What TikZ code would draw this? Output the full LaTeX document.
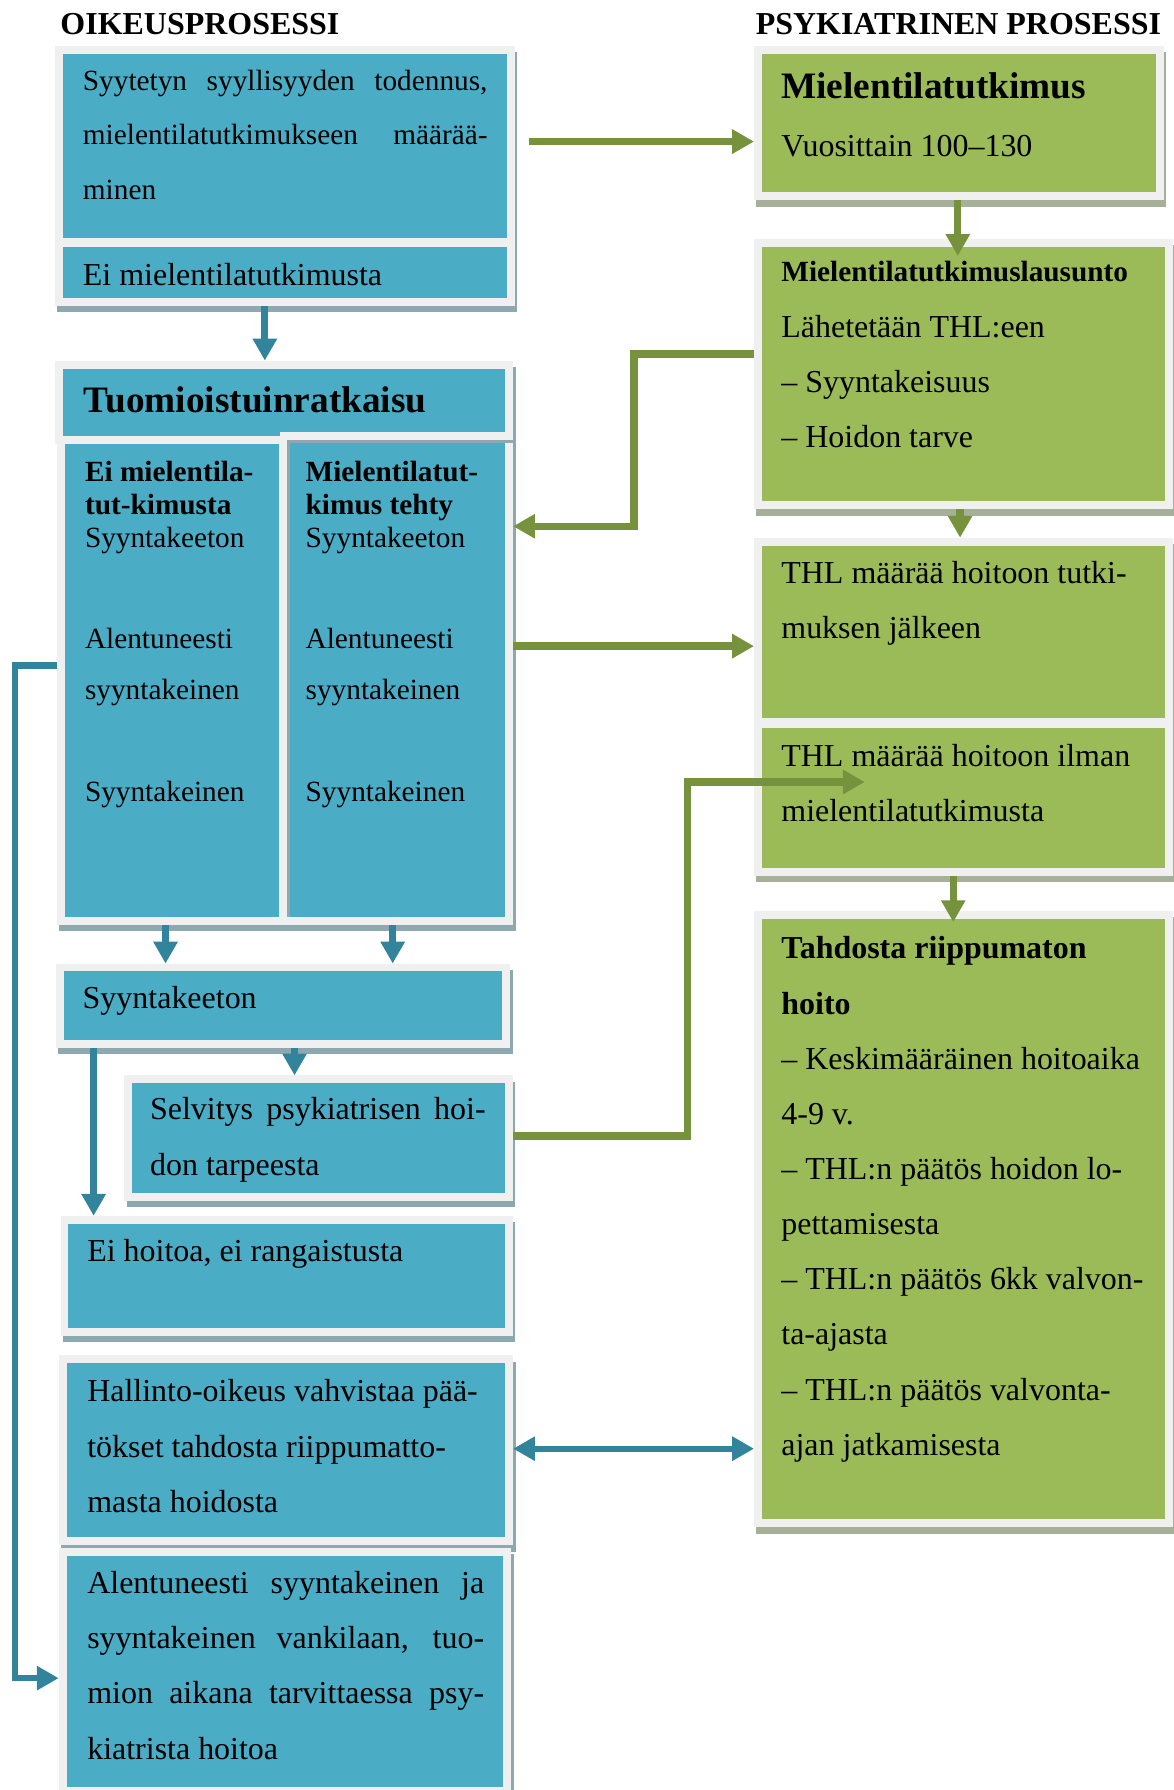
\documentclass[tikz,border=0pt]{standalone}
\usepackage{fontspec}
\setmainfont{Liberation Serif}
\usetikzlibrary{arrows.meta,fit,calc,shadows}

\definecolor{boxblue}{HTML}{4BACC6}
\definecolor{lineblue}{HTML}{31849B}
\definecolor{boxgreen}{HTML}{9BBB59}
\definecolor{linegreen}{HTML}{76923C}
\definecolor{framegray}{HTML}{F0F0F0}
\definecolor{shadeblue}{HTML}{8EA8B0}
\definecolor{shadegreen}{HTML}{A6AF98}

\begin{document}
\begin{tikzpicture}[>={Triangle[width=8.7pt,length=8.2pt]},
  x=0.4286pt,y=-0.4286pt,
  bluebox/.style={fill=boxblue,draw=framegray,line width=3pt,inner sep=1.5pt,
    general shadow={fill=shadeblue,draw=shadeblue,shadow xshift=0.9pt,shadow yshift=-2.4pt}},
  greenbox/.style={fill=boxgreen,draw=framegray,line width=3pt,inner sep=1.5pt,
    general shadow={fill=shadegreen,draw=shadegreen,shadow xshift=0.9pt,shadow yshift=-2.4pt}},
  txt/.style={anchor=base west,inner sep=0pt,align=left,font=\fontsize{12}{20.7}\selectfont},
  coltxt/.style={txt,font=\fontsize{11}{12.43}\selectfont},
  head/.style={anchor=base west,inner sep=0pt,font=\fontsize{12}{14}\selectfont\bfseries},
  blueline/.style={draw=lineblue,line width=2.6pt,->},
  greenline/.style={draw=linegreen,line width=2.75pt,->}]
\useasboundingbox (0,0) rectangle (1028,1568);

% otsikot
\node[head] (oikeus) at (52.5,30) {OIKEUSPROSESSI};
\node[head] (psyk) at (661.6,30) {PSYKIATRINEN PROSESSI};

% oikeusprosessi
\node[bluebox,fit={(55,47.3) (444,208.3)}] (syyte) {};
\node[bluebox,fit={(55,216) (444,261)}] (eimt) {};
\node[bluebox,fit={(55,322.8) (442.5,382)}] (tuomio) {};
\node[bluebox,fit={(57,389) (244.8,803)}] (lcol) {};
\node[bluebox,fit={(252.7,385.6) (442.5,803)}] (rcol) {};
\draw[shadeblue,line width=1.2pt] (252.7,803) -- (252.7,386.5) -- (450,386.5);
\node[bluebox,fit={(56,851) (440,911)}] (syyn) {};
\node[bluebox,fit={(116,949) (442,1045)}] (selv) {};
\node[bluebox,fit={(60,1072) (442,1163)}] (eihoi) {};
\node[bluebox,fit={(58.4,1194.2) (442.5,1346.7)}] (hall) {};
\node[bluebox,fit={(58.4,1362.7) (441,1565.7)}] (alent) {};

% psykiatrinen prosessi
\node[greenbox,fit={(667.5,47.3) (1012.2,168.5)}] (mielen) {};
\node[greenbox,fit={(667.5,216) (1020.9,439)}] (lausu) {};
\node[greenbox,fit={(667.5,478) (1020.9,629)}] (thla) {};
\node[greenbox,fit={(667.5,638) (1020.9,760)}] (thlb) {};
\node[greenbox,fit={(667.5,804.7) (1020.9,1331)}] (tahd) {};

% tekstit (base = viimeisen rivin perusviiva)
\node[txt,font=\fontsize{11}{20.4}\selectfont] (syytetxt) at (72.2,174.4)
  {\makebox[151.9pt][s]{Syytetyn syyllisyyden todennus,}\\
   \makebox[151.9pt][s]{mielentilatutkimukseen määrää-}\\minen};
\node[txt] (eimttxt) at (72.2,250) {Ei mielentilatutkimusta};
\node[txt,font=\fontsize{14}{16}\selectfont\bfseries] (tuomiotxt) at (73,361) {Tuomioistuinratkaisu};
\node[coltxt] (lcoltxt) at (74,702)
  {\textbf{Ei mielentila-}\\\textbf{tut-kimusta}\\Syyntakeeton\\[25.3pt]Alentuneesti\\[6.9pt]syyntakeinen\\[25.7pt]Syyntakeinen};
\node[coltxt] (rcoltxt) at (267.3,702)
  {\textbf{Mielentilatut-}\\\textbf{kimus tehty}\\Syyntakeeton\\[25.3pt]Alentuneesti\\[6.9pt]syyntakeinen\\[25.7pt]Syyntakeinen};
\node[txt] (syyntxt) at (72,883) {Syyntakeeton};
\node[txt] (selvtxt) at (131,1029.3)
  {\makebox[126pt][s]{Selvitys psykiatrisen hoi-}\\don tarpeesta};
\node[txt] (eihoitxt) at (76,1105) {Ei hoitoa, ei rangaistusta};
\node[txt] (halltxt) at (76,1324.6)
  {Hallinto-oikeus vahvistaa pää-\\tökset tahdosta riippumatto-\\masta hoidosta};
\node[txt] (alenttxt) at (76,1540.9)
  {\makebox[149pt][s]{Alentuneesti syyntakeinen ja}\\
   \makebox[149pt][s]{syyntakeinen vankilaan, tuo-}\\
   \makebox[149pt][s]{mion aikana tarvittaessa psy-}\\kiatrista hoitoa};

\node[txt,font=\fontsize{14}{16}\selectfont\bfseries] (mielentitle) at (684,86) {Mielentilatutkimus};
\node[txt] (mielentxt) at (684,137.3) {Vuosittain 100–130};
\node[txt] (lausutxt) at (684,391.9)
  {{\fontsize{11}{13}\selectfont\bfseries Mielentilatutkimuslausunto}\\Lähetetään THL:een\\– Syyntakeisuus\\– Hoidon tarve};
\node[txt] (thlatxt) at (684,559.3) {THL määrää hoitoon tutki-\\muksen jälkeen};
\node[txt] (thlbtxt) at (684,719.3) {THL määrää hoitoon ilman\\mielentilatutkimusta};
\node[txt] (tahdtxt) at (684,1274.7)
  {\textbf{Tahdosta riippumaton}\\\textbf{hoito}\\– Keskimääräinen hoitoaika\\4-9 v.\\– THL:n päätös hoidon lo-\\pettamisesta\\– THL:n päätös 6kk valvon-\\ta-ajasta\\– THL:n päätös valvonta-\\ajan jatkamisesta};

% nuolet
\draw[blueline] (232,0 |- eimt.south) -- (232,0 |- tuomio.north);
\draw[blueline] (145,0 |- lcol.south) -- (145,0 |- syyn.north);
\draw[blueline] (344,0 |- rcol.south) -- (344,0 |- syyn.north);
\draw[blueline] (258,0 |- syyn.south) -- (258,0 |- selv.north);
\draw[blueline] (82,0 |- syyn.south) -- (82,0 |- eihoi.north);
\draw[blueline,line width=2.3pt] (lcol.west |- 0,583) -- ++(-37,0) |- (alent.west |- 0,1470);
\draw[blueline,<->,line width=2.3pt] (hall.east |- 0,1269) -- (tahd.west |- 0,1269);

\draw[greenline] ($(syyte.east |- 0,124)+(12,0)$) -- (mielen.west |- 0,124);
\draw[greenline,shorten >=-6.5pt] (839,0 |- mielen.south) -- (839,0 |- lausu.north);
\draw[greenline] (lausu.west |- 0,310) -- ++(-105,0) |- (rcol.east |- 0,461);
\draw[greenline] (841,0 |- lausu.south) -- (841,0 |- thla.north);
\draw[greenline] (rcol.east |- 0,566) -- (thla.west |- 0,566);
\draw[greenline] (selv.east |- 0,995) -- ++(153,0) |- ($(thlb.west |- 0,685)+(97,0)$);
\draw[greenline,shorten >=-4.3pt] (835,0 |- thlb.south) -- (835,0 |- tahd.north);
\end{tikzpicture}
\end{document}
